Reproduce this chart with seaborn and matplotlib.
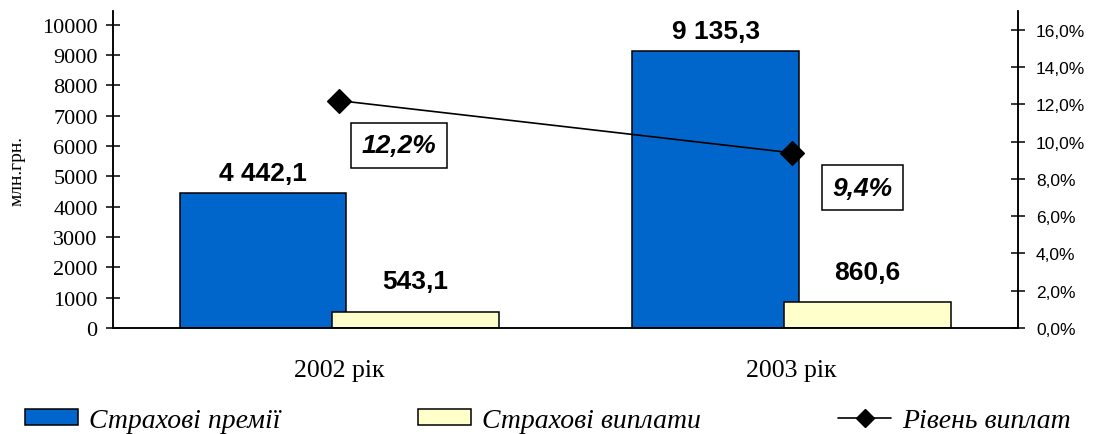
import matplotlib
matplotlib.use("Agg")
import matplotlib.pyplot as plt
import seaborn as sns
import pandas as pd
from matplotlib.patches import Patch
from matplotlib.lines import Line2D
from matplotlib.ticker import FuncFormatter, MultipleLocator

sns.set_style("white")
plt.rcParams["font.family"] = ["Liberation Serif", "DejaVu Serif"]
plt.rcParams["text.color"] = "black"
plt.rcParams["axes.labelcolor"] = "black"
plt.rcParams["xtick.color"] = "black"
plt.rcParams["ytick.color"] = "black"

# data
years = ["2002 рік", "2003 рік"]
premiums = [4442.1, 9135.3]
payouts = [543.1, 860.6]
pay_rate = [12.2, 9.4]
series = ["Страхові премії", "Страхові виплати"]
line_name = "Рівень виплат"

blue = "#0066CC"
yellow = "#FFFFCC"

df = pd.DataFrame({
    "year": years * 2,
    "series": [series[0]] * 2 + [series[1]] * 2,
    "value": premiums + payouts,
})

fig = plt.figure(figsize=(10.96, 4.35), dpi=100)
ax = fig.add_axes([0.1031, 0.2437, 0.8257, 0.7283])

sns.barplot(data=df, x="year", y="value", hue="series", palette=[blue, yellow],
            width=0.672, saturation=1, edgecolor="black", linewidth=1.1,
            legend=False, ax=ax)

# widen bars so the two overlap slightly, like the original
for p in ax.patches:
    c = p.get_x() + p.get_width() / 2
    p.set_width(0.368)
    p.set_x(c - 0.184)

fmt = lambda v: f"{v:,.1f}".replace(",", " ").replace(".", ",")
for cont, pad in zip(ax.containers, [6, 13]):
    ax.bar_label(cont, labels=[fmt(v) for v in cont.datavalues], padding=pad,
                 fontsize=19, fontweight="bold", family="Liberation Sans", color="black")

ax.set_ylim(0, 10450)
ax.yaxis.set_major_locator(MultipleLocator(1000))
ax.set_xlabel("")
ax.set_ylabel("млн.грн.", fontsize=14, labelpad=12)
ax.tick_params(axis="y", direction="inout", length=10, width=1.1, labelsize=16, pad=6)
ax.tick_params(axis="x", which="major", length=0, labelsize=18.5, pad=22)
ax.set_xticks([0.5], minor=True)
ax.tick_params(axis="x", which="minor", direction="out", length=9, width=1.1)

# line on the right axis
ax2 = ax.twinx()
sns.pointplot(x=years, y=pay_rate, color="black", markers="D", linestyles="-",
              errorbar=None, markersize=12, linewidth=1.2, ax=ax2)
ax2.set_ylim(0, 17.0)
ax2.yaxis.set_major_locator(MultipleLocator(2))
ax2.yaxis.set_major_formatter(FuncFormatter(lambda v, _: f"{v:.1f}%".replace(".", ",")))
ax2.tick_params(axis="y", direction="inout", length=10, width=1.1, labelsize=12.5, pad=8)
for t in ax2.get_yticklabels():
    t.set_family("Liberation Sans")
ax2.set_ylabel("")

offsets = [(43, -32), (51, -25)]
for i, (v, off) in enumerate(zip(pay_rate, offsets)):
    ax2.annotate(f"{v:.1f}%".replace(".", ","), xy=(i, v), xytext=off,
                 textcoords="offset points", ha="center", va="center",
                 fontsize=19, fontweight="bold", fontstyle="italic",
                 family="Liberation Sans", color="black",
                 bbox=dict(boxstyle="square,pad=0.4", fc="white", ec="black", lw=1.1))

ax.set_xlim(-0.5, 1.5)

for a in (ax, ax2):
    a.spines["top"].set_visible(False)
    for s in ("left", "right", "bottom"):
        a.spines[s].set_color("black")
        a.spines[s].set_linewidth(1.1)

handles = [
    Patch(facecolor=blue, edgecolor="black", linewidth=1.1, label=series[0]),
    Patch(facecolor=yellow, edgecolor="black", linewidth=1.1, label=series[1]),
    Line2D([0], [0], color="black", marker="D", markersize=9, linewidth=1.2, label=line_name),
]
fig.legend(handles=handles, loc="lower left", bbox_to_anchor=(0.0, -0.055, 1.0, 0.09),
           mode="expand", ncol=3, frameon=False, handlelength=1.9, handleheight=0.55,
           handletextpad=0.4, prop={"family": "Liberation Serif", "style": "italic", "size": 20})

fig.savefig("out.png", dpi=100)
